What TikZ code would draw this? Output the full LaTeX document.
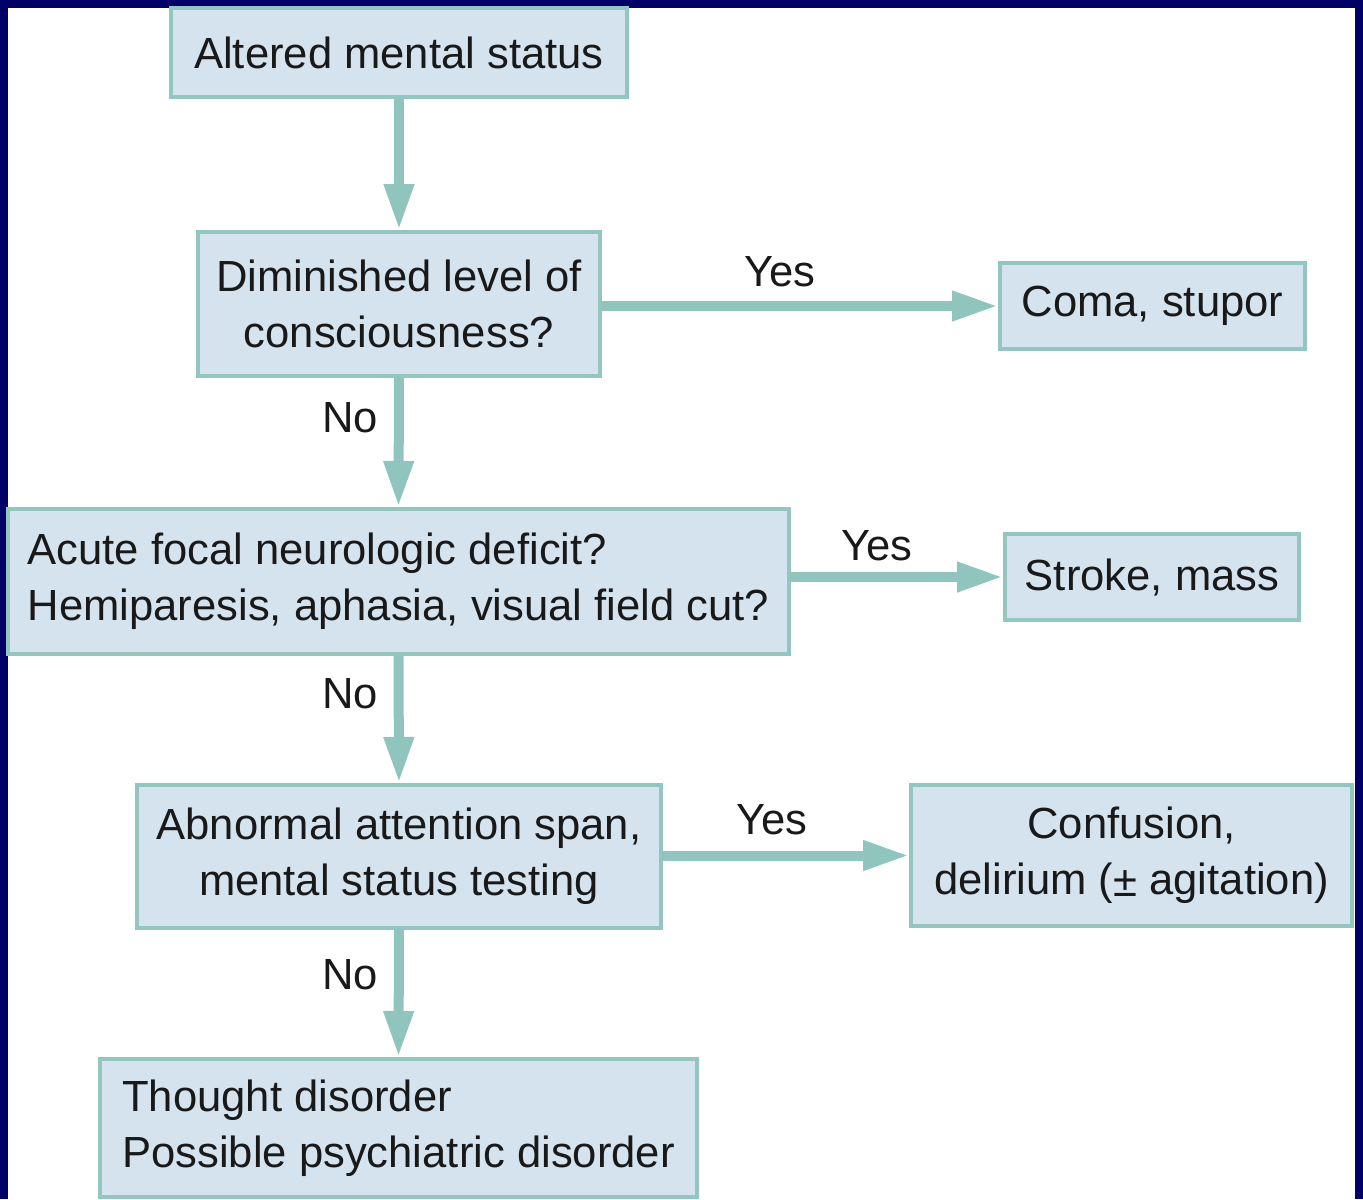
\documentclass[tikz,border=0pt]{standalone}
\usepackage{fontspec}
\setmainfont{Liberation Sans}
\usetikzlibrary{arrows.meta}
\definecolor{frameblue}{HTML}{000066}
\definecolor{boxfill}{HTML}{D5E3EE}
\definecolor{boxline}{HTML}{93C6BF}
\definecolor{flowline}{HTML}{8FC5BD}
\begin{document}
\begin{tikzpicture}[x=0.5pt,y=-0.5pt,
		box/.style={draw=boxline,fill=boxfill,line width=2pt,inner sep=0pt,
			font=\fontsize{21.8}{28}\selectfont,text=black!90,align=center},
		flow/.style={draw=flowline,line width=5pt,-{Triangle[length=23pt,width=14pt]}},
		lbl/.style={font=\fontsize{21.8}{28}\selectfont,text=black!90}]
% frame
\fill[frameblue] (0,0) rectangle (1363,1199);
\fill[white] (8,8) rectangle (1355,1199);
% boxes
\node[box,minimum width=228pt,minimum height=44.5pt] (ams) at (399,52.5) {Altered mental status};
\node[box,minimum width=201pt,minimum height=72pt] (loc) at (399,304) {Diminished level of\\consciousness?};
\node[box,minimum width=152.5pt,minimum height=43pt] (coma) at (1152.5,306) {Coma, stupor};
\node[box,minimum width=390.5pt,minimum height=72.5pt,align=left] (focal) at (398.5,581.5) {Acute focal neurologic deficit?\\Hemiparesis, aphasia, visual field cut?};
\node[box,minimum width=147pt,minimum height=43pt] (stroke) at (1152,577) {Stroke, mass};
\node[box,minimum width=262pt,minimum height=71.5pt] (attn) at (399,856.5) {Abnormal attention span,\\mental status testing};
\node[box,minimum width=220.5pt,minimum height=70.5pt] (conf) at (1131.5,855.5) {Confusion,\\delirium (\raisebox{-1pt}{±} agitation)};
\node[box,minimum width=298.5pt,minimum height=69pt,align=left] (thought) at (398.5,1128) {Thought disorder\\Possible psychiatric disorder};
% connectors
\draw[flow] (ams.south) -- (loc.north);
\draw[flow] (loc.south) -- (focal.north);
\draw[flow] (focal.south) -- (attn.north);
\draw[flow] (attn.south) -- (thought.north);
\draw[flow] (loc.east |- coma.west) -- (coma.west);
\draw[flow] (focal.east |- stroke.west) -- (stroke.west);
\draw[flow] (attn.east |- conf.west) -- (conf.west);
% labels
\node[lbl] (yes1) at (780,272) {Yes};
\node[lbl] (yes2) at (877,546) {Yes};
\node[lbl] (yes3) at (772,820) {Yes};
\node[lbl] (no1) at (350,418) {No};
\node[lbl] (no2) at (350,694) {No};
\node[lbl] (no3) at (350,975) {No};
\end{tikzpicture}
\end{document}
